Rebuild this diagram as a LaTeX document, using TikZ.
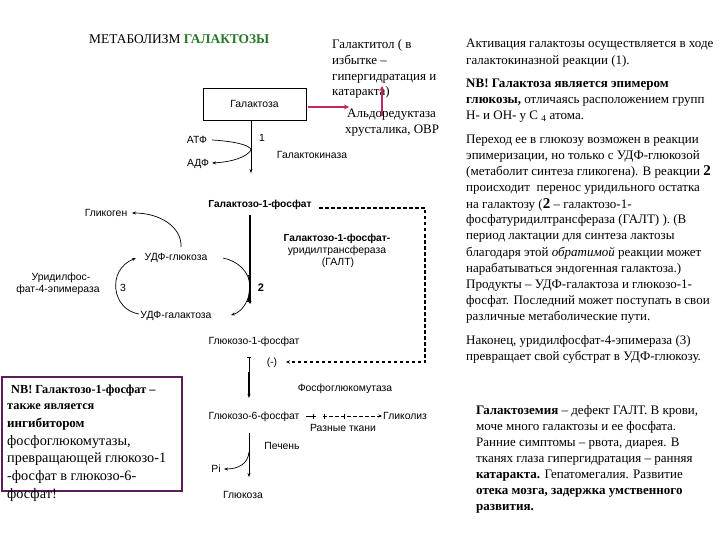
\documentclass[tikz,border=0pt]{standalone}
\usepackage{fontspec}
\setmainfont{Liberation Serif}
\newfontfamily\lsans{Liberation Sans}
\usetikzlibrary{arrows.meta}
\definecolor{mag}{RGB}{196,40,100}
\definecolor{ttlgreen}{RGB}{40,120,40}
\definecolor{nbpurple}{RGB}{90,30,90}
\begin{document}
\begin{tikzpicture}[x=1pt,y=-1pt,
  lab/.style={font=\lsans\fontsize{10.4}{12}\selectfont, inner sep=0pt, anchor=base},
  labb/.style={font=\lsans\bfseries\fontsize{10.2}{12}\selectfont, inner sep=0pt, anchor=base},
  txt/.style={font=\fontsize{13}{16}\selectfont, inner sep=0pt, anchor=base west},
  nbb/.style={font=\bfseries\fontsize{12.3}{16}\selectfont, inner sep=0pt, anchor=base west},
  nbr/.style={font=\fontsize{14.3}{16}\selectfont, inner sep=0pt, anchor=base west},
  arr/.style={-{Stealth[length=4pt,width=3pt]}, line width=0.7pt},
  marr/.style={-{Stealth[length=5pt,width=5pt]}, line width=1.6pt, draw=mag},
  dsh/.style={dash pattern=on 3.5pt off 2.5pt, line width=1.1pt}
]
\useasboundingbox (0,0) rectangle (720,540);
\fill[white] (0,0) rectangle (720,540);

% title
\node[txt, font=\fontsize{13.4}{16}\selectfont] (title) at (89,44) {МЕТАБОЛИЗМ \textcolor{ttlgreen}{\textbf{ГАЛАКТОЗЫ}}};

% galactose box
\node[draw, line width=0.9pt, minimum width=103pt, minimum height=32pt, inner sep=0pt,
      font=\lsans\fontsize{10.4}{12}\selectfont] (gal) at (254.5,104) {Галактоза};

% galactitol block
\node[txt] (gt1) at (332,49) {Галактитол ( в};
\node[txt] (gt2) at (332,65) {избытке –};
\node[txt] (gt3) at (332,81) {гипергидратация и};
\node[txt] (gt4) at (332,96) {катаракта)};
\node[txt] (ald1) at (347,118) {Альдоредуктаза};
\node[txt] (ald2) at (345,134) {хрусталика, ОВР};
\coordinate (mA) at (308,107);
\coordinate (mB) at (349,107);
\coordinate (mC) at (382,116);
\coordinate (mD) at (382,86);
\draw[marr] (mA) -- (mB);
\draw[marr] (mC) -- (mD);

% step 1
\node[lab] (atf) at (197,143.5) {АТФ};
\node[lab] (adf) at (198,166.5) {АДФ};
\node[lab] (n1) at (262,141.5) {1};
\node[lab] (gk) at (312,158.5) {Галактокиназа};
\node[labb] (g1p) at (260,207.5) {Галактозо-1-фосфат};
\coordinate (v1a) at (251,120);
\coordinate (v1b) at (251,173);
\draw[arr] (v1a) -- (v1b);
\coordinate (c1a) at (212,140);
\coordinate (c1m) at (251,150);
\coordinate (c1b) at (212,163);
\draw[arr] (c1a) .. controls (232,141) and (251,145) .. (c1m) .. controls (247,157) and (232,162) .. (c1b);

% GALT
\node[labb] (galt1) at (337,241.5) {Галактозо-1-фосфат-};
\node[lab] (galt2) at (337,253.5) {уридилтрансфераза};
\node[lab] (galt3) at (338,265.5) {(ГАЛТ)};

% step 2
\coordinate (v2a) at (250,215);
\coordinate (v2b) at (250,304);
\draw[line width=1.1pt, -{Stealth[length=3pt,width=3pt]}] (v2a) -- (v2b);
\node[lab] (udfg) at (176,260.5) {УДФ-глюкоза};
\node[lab] (udfgal) at (176,318.5) {УДФ-галактоза};
\node[labb, font=\lsans\bfseries\fontsize{11}{12}\selectfont] (n2) at (261,291) {2};
\coordinate (c2a) at (223,258);
\coordinate (c2m) at (250,287);
\coordinate (c2b) at (231,315);
\draw[arr] (c2a) .. controls (238,261) and (250,272) .. (c2m) .. controls (250,300) and (242,312) .. (c2b);
\draw[line width=1.8pt] (249,275) .. controls (250.5,283) and (250.5,292) .. (248,302);

% glycogen
\node[lab] (glyc) at (106,216.5) {Гликоген};
\coordinate (c4a) at (181,247);
\coordinate (c4b) at (132,213);
\draw[arr] (c4a) .. controls (182,227) and (160,213) .. (c4b);

% step 3
\node[lab] (ep1) at (61,280.5) {Уридилфос-};
\node[lab] (ep2) at (58,292.5) {фат-4-эпимераза};
\node[lab] (n3) at (123,291.5) {3};
\coordinate (c3a) at (139,314);
\coordinate (c3b) at (136,258);
\draw[arr] (c3a) .. controls (112,310) and (106,270) .. (c3b);

% glucose-1-phosphate
\node[lab] (g1pg) at (254,344.5) {Глюкозо-1-фосфат};
\node[lab] (inh) at (272,365.5) {(-)};
\node[lab] (pgm) at (345,391.5) {Фосфоглюкомутаза};
\coordinate (v3a) at (249,357);
\coordinate (v3b) at (249,398);
\draw[line width=0.8pt, {Bar[width=4pt]}-{Stealth[length=4pt,width=3pt]}] (v3a) -- (v3b);
\draw[line width=1.6pt] (249,372) -- (249,395);

% dashed inhibition
\coordinate (d0) at (319,208);
\coordinate (d1) at (425,208);
\coordinate (d2) at (425,362);
\coordinate (d3) at (286,362);
\draw[dsh, -{Stealth[length=4pt,width=3.5pt]}] (d0) -- (d1) -- (d2) -- (d3);

% glucose-6-phosphate
\node[lab] (g6p) at (254,419.5) {Глюкозо-6-фосфат};
\node[lab, anchor=base west] (glz) at (383,419.5) {Гликолиз};
\node[lab] (rt) at (343,431.5) {Разные ткани};
\coordinate (e0) at (306,416);
\coordinate (e1) at (316,416);
\coordinate (e2) at (323,416);
\coordinate (e3) at (382,416);
\draw[line width=0.6pt] (e0) -- (e1);
\draw[dash pattern=on 3.5pt off 2.5pt, line width=0.7pt, -{Stealth[length=3.5pt,width=3pt]}] (e2) -- (e3);
\draw[line width=0.6pt] (313,413.5) -- (313,418.5);
\draw[line width=0.6pt] (324,413.5) -- (324,418.5);
\draw[line width=0.6pt] (344,413.5) -- (344,418.5);

% liver
\node[lab] (liv) at (282,449.5) {Печень};
\node[lab] (pi) at (216,472.5) {Pi};
\node[lab] (glu) at (243,498.5) {Глюкоза};
\coordinate (v4a) at (249,433);
\coordinate (v4b) at (249,477);
\draw[arr] (v4a) -- (v4b);
\coordinate (c5a) at (249,452);
\coordinate (c5b) at (224,469);
\draw[arr] (c5a) .. controls (248,464) and (238,469) .. (c5b);

% NB box
\draw[nbpurple, line width=2.4pt] (2,377) rectangle (182,491);
\node[nbb] (nb1) at (11,393) {NB! Галактозо-1-фосфат –};
\node[nbb] (nb2) at (7,409) {также является};
\node[nbb, font=\bfseries\fontsize{13}{16}\selectfont] (nb3) at (7,427) {ингибитором};
\node[nbr] (nb4) at (7,445) {фосфоглюкомутазы,};
\node[nbr] (nb5) at (7,462) {превращающей глюкозо-1};
\node[nbr] (nb6) at (7,480) {-фосфат в глюкозо-6-};
\node[nbr] (nb7) at (7,498) {фосфат!};

% right column
\node[txt] (r1) at (466,48) {Активация галактозы осуществляется в ходе};
\node[txt] (r2) at (466,65) {галактокиназной реакции (1).};
\node[txt] (r3) at (466,88) {\textbf{NB! Галактоза является эпимером}};
\node[txt] (r4) at (466,104) {\textbf{глюкозы,} отличаясь расположением групп};
\node[txt] (r5) at (466,120) {Н- и ОН- у С \textsubscript{4} атома.};
\node[txt] (r6) at (466,144) {Переход ее в глюкозу возможен в реакции};
\node[txt] (r7) at (466,160) {эпимеризации, но только с УДФ-глюкозой};
\node[txt] (r8) at (466,176) {(метаболит синтеза гликогена). В реакции {\bfseries\fontsize{15}{16}\selectfont 2}};
\node[txt] (r9) at (466,192) {происходит\ \ перенос уридильного остатка};
\node[txt] (r10) at (466,208) {на галактозу ({\bfseries\fontsize{15}{16}\selectfont 2} – галактозо-1-};
\node[txt] (r11) at (466,224) {фосфатуридилтрансфераза (ГАЛТ) ). (В};
\node[txt] (r12) at (466,240) {период лактации для синтеза лактозы};
\node[txt] (r13) at (466,256) {благодаря этой \textit{обратимой} реакции может};
\node[txt] (r14) at (466,272) {нарабатываться эндогенная галактоза.)};
\node[txt] (r15) at (466,288) {Продукты – УДФ-галактоза и глюкозо-1-};
\node[txt] (r16) at (466,304) {фосфат. Последний может поступать в свои};
\node[txt] (r17) at (466,320) {различные метаболические пути.};
\node[txt] (r18) at (466,344) {Наконец, уридилфосфат-4-эпимераза (3)};
\node[txt] (r19) at (466,360) {превращает свой субстрат в УДФ-глюкозу.};

\node[txt] (b1) at (476,414) {\textbf{Галактоземия} – дефект ГАЛТ. В крови,};
\node[txt] (b2) at (476,430) {моче много галактозы и ее фосфата.};
\node[txt] (b3) at (476,446) {Ранние симптомы – рвота, диарея. В};
\node[txt] (b4) at (476,462) {тканях глаза гипергидратация – ранняя};
\node[txt] (b5) at (476,478) {\textbf{катаракта.} Гепатомегалия. Развитие};
\node[txt] (b6) at (476,494) {\textbf{отека мозга, задержка умственного}};
\node[txt] (b7) at (476,510) {\textbf{развития.}};
\end{tikzpicture}
\end{document}
